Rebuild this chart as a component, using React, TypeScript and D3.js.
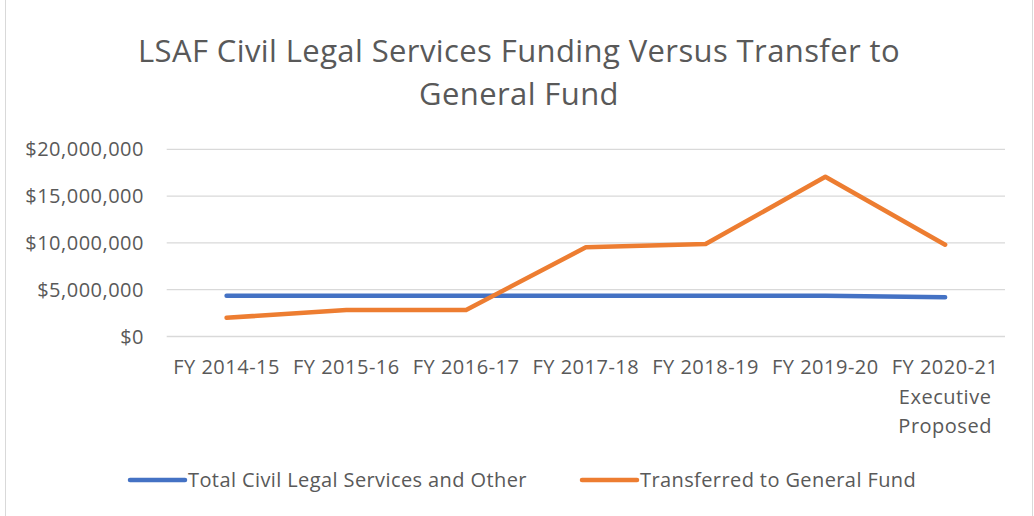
import React from "react";
import * as d3 from "d3";

const categories = [
  ["FY 2014-15"],
  ["FY 2015-16"],
  ["FY 2016-17"],
  ["FY 2017-18"],
  ["FY 2018-19"],
  ["FY 2019-20"],
  ["FY 2020-21", "Executive", "Proposed"],
];
const totalCivil = [4360000, 4360000, 4360000, 4360000, 4360000, 4360000, 4190000];
const transferred = [2000000, 2830000, 2830000, 9530000, 9880000, 17070000, 9810000];
const yTicks = [0, 5000000, 10000000, 15000000, 20000000];
const seriesNames = ["Total Civil Legal Services and Other", "Transferred to General Fund"];
const colors = ["#4472C4", "#ED7D31"];
const titleLines = ["LSAF Civil Legal Services Funding Versus Transfer to", "General Fund"];

const W = 1034;
const H = 516;
const FONT = "'Open Sans', Lato, sans-serif";

export default function App() {
  const x = d3
    .scaleBand<number>()
    .domain(categories.map((_, i) => i))
    .range([166.7, 1005])
    .paddingInner(0)
    .paddingOuter(0);
  const y = d3.scaleLinear().domain([0, 20000000]).range([336.5, 149.3]);
  const cx = (i: number) => (x(i) as number) + x.bandwidth() / 2;
  const line = d3
    .line<number>()
    .x((_, i) => cx(i))
    .y((d) => y(d));
  const fmt = (v: number) => "$" + d3.format(",")(v);
  const series = [totalCivil, transferred];

  return (
    <div style={{ position: "absolute", left: 0, top: 0 }}>
      <svg width={W} height={H} style={{ display: "block" }}>
        <rect x={0} y={0} width={W} height={H} fill="#fff" />
        <rect x={5.5} y={-1} width={1027} height={H + 2} fill="none" stroke="#d9d9d9" />
        {titleLines.map((t, i) => (
          <text
            key={i}
            x={519}
            y={62 + i * 43}
            textAnchor="middle"
            fontFamily={FONT}
            fontSize={31}
            letterSpacing={0.4}
            fill="#595959"
          >
            {t}
          </text>
        ))}
        {yTicks.map((t) => (
          <g key={t}>
            <line x1={166.7} x2={1005} y1={y(t)} y2={y(t)} stroke="#d9d9d9" strokeWidth={1.3} />
            <text
              x={144}
              y={y(t)}
              dy="0.35em"
              textAnchor="end"
              fontFamily={FONT}
              fontSize={20}
              letterSpacing={0.5}
              fill="#595959"
            >
              {fmt(t)}
            </text>
          </g>
        ))}
        {categories.map((lines, i) => (
          <text
            key={i}
            x={cx(i)}
            y={374}
            textAnchor="middle"
            fontFamily={FONT}
            fontSize={20}
            letterSpacing={0.5}
            fill="#595959"
          >
            {lines.map((l, j) => (
              <tspan key={j} x={cx(i)} dy={j === 0 ? 0 : 29.5}>
                {l}
              </tspan>
            ))}
          </text>
        ))}
        {series.map((s, k) => (
          <path
            key={k}
            d={line(s) || ""}
            fill="none"
            stroke={colors[k]}
            strokeWidth={4.5}
            strokeLinejoin="round"
            strokeLinecap="round"
          />
        ))}
        {seriesNames.map((n, k) => {
          const lx = k === 0 ? 130 : 582;
          return (
            <g key={k}>
              <line x1={lx} x2={lx + 55} y1={480} y2={480} stroke={colors[k]} strokeWidth={4.5} strokeLinecap="round" />
              <text x={lx + 58} y={480} dy="0.35em" fontFamily={FONT} fontSize={20} letterSpacing={0.4} fill="#595959">
                {n}
              </text>
            </g>
          );
        })}
      </svg>
    </div>
  );
}
